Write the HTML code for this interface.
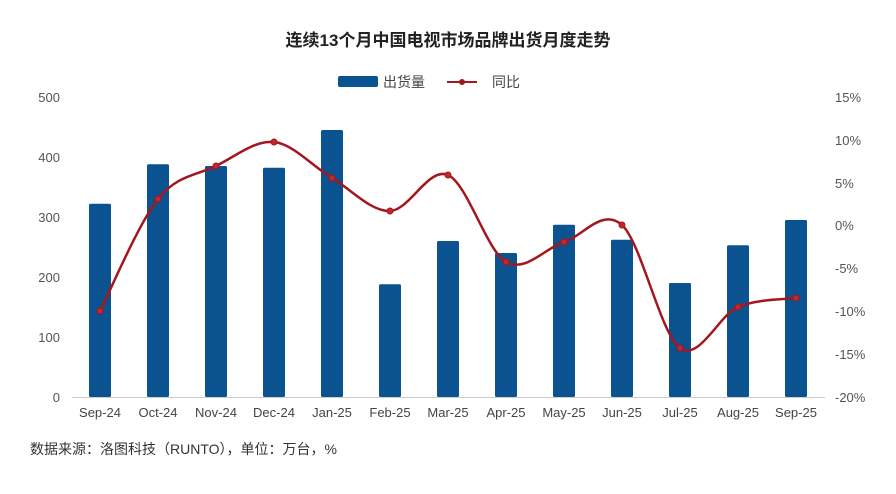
<!DOCTYPE html>
<html><head><meta charset="utf-8"><style>
body{margin:0;background:#fff;width:896px;height:489px;overflow:hidden}
text{font-family:"Liberation Sans","Noto Sans CJK SC",sans-serif}
</style></head><body>
<svg id="s" width="896" height="489" xmlns="http://www.w3.org/2000/svg">
<text x="448" y="46" text-anchor="middle" font-size="17" font-weight="bold" fill="#222">连续13个月中国电视市场品牌出货月度走势</text>
<rect x="338" y="76" width="40" height="11" rx="2" fill="#0b5390"/>
<text x="383" y="87" font-size="14" fill="#444">出货量</text>
<line x1="447" y1="82" x2="477" y2="82" stroke="#a3171e" stroke-width="2"/>
<circle cx="462" cy="82" r="3" fill="#a3171e"/>
<text x="492" y="87" font-size="14" fill="#444">同比</text>
<g font-size="13" fill="#555" text-anchor="end">
<text x="60" y="102">500</text><text x="60" y="162">400</text><text x="60" y="222">300</text>
<text x="60" y="282">200</text><text x="60" y="342">100</text><text x="60" y="402">0</text>
</g>
<g font-size="13" fill="#555">
<text x="835" y="102">15%</text><text x="835" y="145">10%</text><text x="835" y="188">5%</text>
<text x="835" y="230">0%</text><text x="835" y="273">-5%</text><text x="835" y="316">-10%</text>
<text x="835" y="359">-15%</text><text x="835" y="402">-20%</text>
</g>
<line x1="72" y1="397.5" x2="825" y2="397.5" stroke="#ccc" stroke-width="1"/>
<g id="bars" fill="#0b5390"></g>
<g id="xl" font-size="13" fill="#444" text-anchor="middle"></g>
<path id="ln" fill="none" stroke="#a3171e" stroke-width="2.5"/>
<g id="dots" fill="#c0282e" stroke="#a3171e" stroke-width="1"></g>
<text x="30" y="454" font-size="14" fill="#333">数据来源：洛图科技（RUNTO），单位：万台，%</text>
</svg>
<script>
var lab=["Sep-24","Oct-24","Nov-24","Dec-24","Jan-25","Feb-25","Mar-25","Apr-25","May-25","Jun-25","Jul-25","Aug-25","Sep-25"];
var v=[322,388,385,382,445,188,260,240,287,262,190,253,295];
var ly=[311,199,166,142,178,211,175,262,242,225,348,307,298];
var ns="http://www.w3.org/2000/svg",b=document.getElementById("bars"),xl=document.getElementById("xl"),d=document.getElementById("dots");
var P=[];
for(var i=0;i<13;i++){var x=100+58*i,h=v[i]*0.6;
var r=document.createElementNS(ns,"rect");r.setAttribute("x",x-11);r.setAttribute("y",397-h);r.setAttribute("width",22);r.setAttribute("height",h);r.setAttribute("rx",1.5);b.appendChild(r);
var t=document.createElementNS(ns,"text");t.setAttribute("x",x);t.setAttribute("y",417);t.textContent=lab[i];xl.appendChild(t);
var c=document.createElementNS(ns,"circle");c.setAttribute("cx",x);c.setAttribute("cy",ly[i]);c.setAttribute("r",3);d.appendChild(c);
P.push([x,ly[i]]);}
var s="M"+P[0][0]+","+P[0][1];
for(var i=0;i<12;i++){var p0=P[Math.max(i-1,0)],p1=P[i],p2=P[i+1],p3=P[Math.min(i+2,12)];
s+=" C"+(p1[0]+(p2[0]-p0[0])/6)+","+(p1[1]+(p2[1]-p0[1])/6)+" "+(p2[0]-(p3[0]-p1[0])/6)+","+(p2[1]-(p3[1]-p1[1])/6)+" "+p2[0]+","+p2[1];}
document.getElementById("ln").setAttribute("d",s);
</script>
</body></html>
